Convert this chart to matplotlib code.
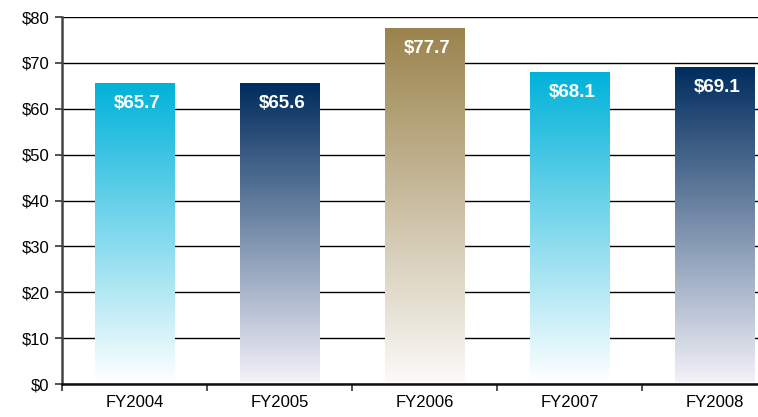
import matplotlib
matplotlib.use("Agg")
import matplotlib.pyplot as plt
import numpy as np
from matplotlib.colors import LinearSegmentedColormap, to_rgb

categories = ["FY2004", "FY2005", "FY2006", "FY2007", "FY2008"]
values = [65.7, 65.6, 77.7, 68.1, 69.1]
labels = ["$65.7", "$65.6", "$77.7", "$68.1", "$69.1"]
top_colors = ["#00B2DA", "#002C5E", "#9A834C", "#00B2DA", "#002C5E"]
bottom_colors = ["#FFFFFF", "#F2F1F8", "#FBFAF8", "#FFFFFF", "#F2F1F8"]
yticks = [0, 10, 20, 30, 40, 50, 60, 70, 80]
ytick_labels = ["$0", "$10", "$20", "$30", "$40", "$50", "$60", "$70", "$80"]

plt.rcParams['font.family'] = ['Liberation Sans', 'DejaVu Sans']

fig = plt.figure(figsize=(7.58, 4.17), dpi=100)
ax = fig.add_axes([62/758, 33/417, 725/758, 367/417])

x = np.arange(len(categories))
bars = ax.bar(x, values, width=0.545, facecolor="none", edgecolor="none", zorder=3)

grad = np.linspace(1, 0, 256).reshape(-1, 1)
for b, c, c0 in zip(bars, top_colors, bottom_colors):
    cmap = LinearSegmentedColormap.from_list("g", [c0, c])
    x0, y0 = b.get_x(), b.get_y()
    w, h = b.get_width(), b.get_height()
    im = ax.imshow(grad, cmap=cmap, vmin=0, vmax=1, aspect="auto",
                   extent=[x0, x0 + w, y0 + 0.5, y0 + h], origin="upper", zorder=3)
    im.set_clip_path(b)

for b, lab in zip(bars, labels):
    ax.annotate(lab, (b.get_x() + b.get_width() / 2, b.get_height()),
                xytext=(2, -15), textcoords="offset points", ha="center", va="center",
                color="white", fontsize=13.5, fontweight="bold", zorder=5)

ax.set_xlim(-0.5, len(categories) - 0.5)
ax.set_ylim(0, 80)
ax.set_yticks(yticks)
ax.set_yticklabels(ytick_labels, fontsize=12)
ax.yaxis.grid(True, color="black", linewidth=1.0, zorder=1)
ax.set_axisbelow(True)

ax.set_xticks(x)
ax.set_xticklabels(categories, fontsize=12)
ax.tick_params(axis="x", length=0, pad=8)
ax.set_xticks(np.arange(-0.5, len(categories), 1), minor=True)
ax.tick_params(axis="x", which="minor", length=5, width=1.2, color="#333333")
ax.tick_params(axis="y", length=5, width=1.2, color="#333333", pad=4)

for s in ["top", "right"]:
    ax.spines[s].set_visible(False)
ax.spines["left"].set_linewidth(1.8)
ax.spines["left"].set_color("#444444")
ax.spines["bottom"].set_linewidth(1.8)
ax.spines["bottom"].set_color("#111111")
ax.spines["bottom"].set_zorder(4)

fig.savefig("out.png", dpi=100)
